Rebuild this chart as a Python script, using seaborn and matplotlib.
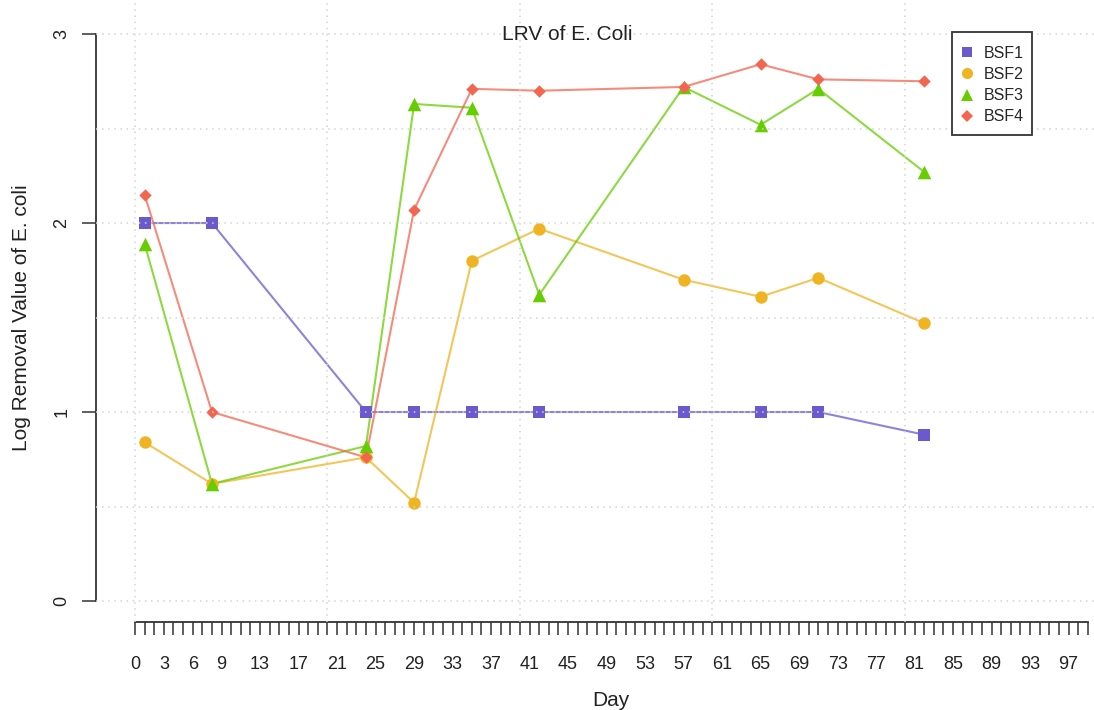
import numpy as np
import pandas as pd
import matplotlib
matplotlib.use("Agg")
import matplotlib.pyplot as plt
from matplotlib.lines import Line2D
from matplotlib.patches import Rectangle
import seaborn as sns

# Sampling days and log removal values per biosand filter
days = [1, 8, 24, 29, 35, 42, 57, 65, 71, 82]
bsf1 = [2.00, 2.00, 1.00, 1.00, 1.00, 1.00, 1.00, 1.00, 1.00, 0.88]
bsf2 = [0.84, 0.62, 0.76, 0.52, 1.80, 1.97, 1.70, 1.61, 1.71, 1.47]
bsf3 = [1.89, 0.62, 0.82, 2.63, 2.61, 1.62, 2.72, 2.52, 2.71, 2.27]
bsf4 = [2.15, 1.00, 0.76, 2.07, 2.71, 2.70, 2.72, 2.84, 2.76, 2.75]

filters = ["BSF1", "BSF2", "BSF3", "BSF4"]
colors = ["#6A5ACD", "#EEB422", "#66CD00", "#F2664F"]
markers = ["s", "o", "^", "D"]
msizes = [80, 80, 95, 40]

x_ticks = list(range(0, 100))
x_labels = [0, 3, 6, 9] + list(range(13, 98, 4))
y_ticks = [0, 1, 2, 3]

df = pd.DataFrame({
    "Day": days * 4,
    "LRV": bsf1 + bsf2 + bsf3 + bsf4,
    "Filter": np.repeat(filters, len(days)),
})

sns.set_style("white")
plt.rcParams["font.family"] = ["Liberation Sans", "DejaVu Sans"]

W, H = 1094, 710
fig = plt.figure(figsize=(W / 100, H / 100), dpi=100)
ax = fig.add_axes([96 / W, (H - 622) / H, (W - 96) / W, 622 / H])

palette = dict(zip(filters, colors))
sns.lineplot(data=df, x="Day", y="LRV", hue="Filter", palette=palette,
             linewidth=1.5, alpha=0.75, legend=False, ax=ax, zorder=2)
for f, c, m, s in zip(filters, colors, markers, msizes):
    sub = df[df["Filter"] == f]
    sns.scatterplot(data=sub, x="Day", y="LRV", color=c, marker=m, s=s,
                    linewidth=0, legend=False, ax=ax, zorder=2.2)

ax.set_xlim(-4.05, 99.64)
ax.set_ylim(-0.111, 3.18)

# dotted light-gray grid laid over the data
for gx in [0, 20, 40, 60, 80]:
    ax.axvline(gx, color="#D3D3D3", linestyle=(0, (1, 3)), linewidth=1.1, zorder=3)
for gy in np.arange(0, 3.51, 0.5):
    ax.axhline(gy, color="#D3D3D3", linestyle=(0, (1, 3)), linewidth=1.1, zorder=3)

for side in ["top", "right"]:
    ax.spines[side].set_visible(False)
ax.spines["left"].set_bounds(0, 3)
ax.spines["bottom"].set_bounds(0, 99)
for side in ["left", "bottom"]:
    ax.spines[side].set_color("#333333")
    ax.spines[side].set_linewidth(1.3)

ax.set_xticks(x_ticks)
ax.set_xticklabels([str(t) if t in x_labels else "" for t in x_ticks])
ax.set_yticks(y_ticks)
ax.set_yticklabels([str(t) for t in y_ticks], rotation=90, va="center")
ax.tick_params(axis="x", bottom=True, direction="out", length=9, width=1.1,
               color="#333333", pad=15.5, labelsize=13, labelcolor="#222222")
ax.tick_params(axis="y", left=True, direction="out", length=10, width=1.1,
               color="#333333", pad=8.5, labelsize=13, labelcolor="#222222")
ax.set_xlabel("")
ax.set_ylabel("")

fig.text(611 / W, 1 - 700 / H, "Day", ha="center", va="center", fontsize=15, color="#222222")
fig.text(22 / W, 1 - 318 / H, "Log Removal Value of E. coli", ha="center", va="center",
         rotation=90, fontsize=15, color="#222222")
fig.text(567 / W, 1 - 35 / H, "LRV of E. Coli", ha="center", va="center",
         fontsize=15, color="#222222")

# legend: points only, inside a plain rectangular frame
frame = Rectangle((952 / W, 1 - 135 / H), 80 / W, 103 / H,
                  transform=fig.transFigure, facecolor="white",
                  edgecolor="#333333", linewidth=1.3, zorder=4, clip_on=False)
ax.add_patch(frame)
handles = [Line2D([], [], linestyle="none", marker=m, color=c, markersize=ms,
                  markeredgewidth=0)
           for c, m, ms in zip(colors, markers, [7, 8, 9, 6])]
leg = ax.legend(handles, filters, loc="upper left",
                bbox_to_anchor=(961 / W, 1 - 46 / H), bbox_transform=fig.transFigure,
                frameon=False, borderaxespad=0, borderpad=0, fontsize=11.5,
                handlelength=0.8, handletextpad=0.6, labelspacing=0.38)
leg.set_zorder(5)

fig.savefig("out.png", dpi=100)
